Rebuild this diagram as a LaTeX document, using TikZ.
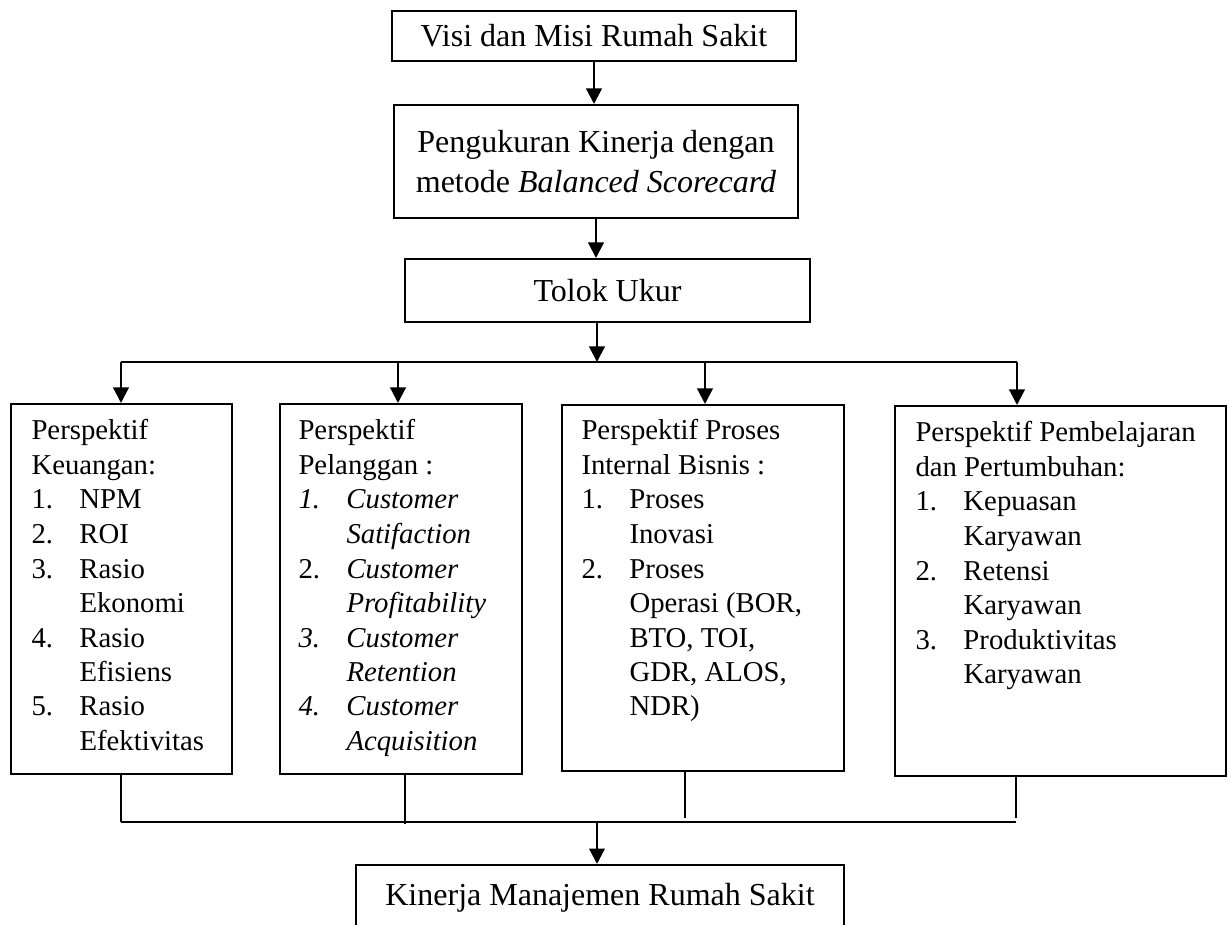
\documentclass[tikz,border=0pt]{standalone}
\usepackage{fontspec}
\setmainfont{Liberation Serif}
\usetikzlibrary{arrows.meta}
\begin{document}
\begin{tikzpicture}[x=0.4pt,y=-0.4pt,
  box/.style={draw, line width=0.8pt, inner sep=0pt, anchor=north west},
  big/.style={font=\fontsize{12.8}{16}\selectfont},
  txt/.style={font=\fontsize{11.5}{13.8}\selectfont, inner sep=0pt, anchor=base west},
  arr/.style={line width=0.9pt, -{Triangle[length=6.2pt,width=6.2pt]}},
  ln/.style={line width=0.8pt},
  thinln/.style={line width=0.45pt},
  busln/.style={line width=0.8pt}]
\clip (0,0) rectangle (1228,925);
\newcommand{\itm}[1]{\makebox[19.2pt][l]{#1}}
\newcommand{\cnt}{\hspace*{19.2pt}}
% top chain
\node[box, big, minimum width=161.6pt, minimum height=20pt] (visi) at (391,10) {Visi dan Misi Rumah Sakit};
\node[box, big, align=center, minimum width=161.6pt, minimum height=45.2pt] (pk) at (393,104) {Pengukuran Kinerja dengan\\metode \textit{Balanced Scorecard}};
\node[box, big, minimum width=162pt, minimum height=25.2pt] (tolok) at (404,258) {Tolok Ukur};
% perspective boxes
\node[box, minimum width=88.4pt, minimum height=148pt] (k1) at (10,403) {};
\node[box, minimum width=96.8pt, minimum height=148pt] (k2) at (279,403) {};
\node[box, minimum width=112.8pt, minimum height=146.4pt] (k3) at (561,404) {};
\node[box, minimum width=132.4pt, minimum height=148pt] (k4) at (894,405) {};
\node[box, big, minimum width=195.2pt, minimum height=26.4pt] (kin) at (355,864) {Kinerja Manajemen Rumah Sakit};
% texts
\node[txt] (t1) at (31,440) {\begin{tabular}[t]{@{}l@{}}
Perspektif\\
Keuangan:\\
\itm{1.}NPM\\
\itm{2.}ROI\\
\itm{3.}Rasio\\
\cnt Ekonomi\\
\itm{4.}Rasio\\
\cnt Efisiens\\
\itm{5.}Rasio\\
\cnt Efektivitas
\end{tabular}};
\node[txt] (t2) at (298,440) {\begin{tabular}[t]{@{}l@{}}
Perspektif\\
Pelanggan :\\
\itm{\textit{1.}}\textit{Customer}\\
\cnt\textit{Satifaction}\\
\itm{2.}\textit{Customer}\\
\cnt\textit{Profitability}\\
\itm{\textit{3.}}\textit{Customer}\\
\cnt\textit{Retention}\\
\itm{\textit{4.}}\textit{Customer}\\
\cnt\textit{Acquisition}
\end{tabular}};
\node[txt] (t3) at (581,440) {\begin{tabular}[t]{@{}l@{}}
Perspektif Proses\\
Internal Bisnis :\\
\itm{1.}Proses\\
\cnt Inovasi\\
\itm{2.}Proses\\
\cnt Operasi (BOR,\\
\cnt BTO, TOI,\\
\cnt GDR, ALOS,\\
\cnt NDR)
\end{tabular}};
\node[txt] (t4) at (915,442) {\begin{tabular}[t]{@{}l@{}}
Perspektif Pembelajaran\\
dan Pertumbuhan:\\
\itm{1.}Kepuasan\\
\cnt Karyawan\\
\itm{2.}Retensi\\
\cnt Karyawan\\
\itm{3.}Produktivitas\\
\cnt Karyawan
\end{tabular}};
% connectors top
\draw[arr] (visi.south) -- (visi.south |- pk.north);
\draw[arr] (pk.south) -- (pk.south |- tolok.north);
\coordinate (busmid) at (597,362);
\coordinate (busL) at (121,362);
\coordinate (bus2) at (398,362);
\coordinate (bus3) at (705,362);
\coordinate (busR) at (1017,362);
\draw[arr] (tolok.south -| busmid) -- (busmid);
\draw[ln] (busL) -- (busR);
\draw[arr] (busL) -- (k1.north -| busL);
\draw[arr] (bus2) -- (k2.north -| bus2);
\draw[arr] (bus3) -- (k3.north -| bus3);
\draw[arr] (busR) -- (k4.north -| busR);
% connectors bottom
\coordinate (c1) at (121,822);
\coordinate (c2) at (405,824);
\coordinate (c3) at (685,818);
\coordinate (c4) at (1016,818);
\coordinate (cL) at (121,822);
\coordinate (cR) at (1016,822);
\coordinate (cmid) at (597,822);
\draw[thinln] (k1.south -| c1) -- (c1);
\draw[thinln] (k2.south -| c2) -- (c2);
\draw[thinln] (k3.south -| c3) -- (c3);
\draw[thinln] (k4.south -| c4) -- (c4);
\draw[busln] (cL) -- (cR);
\draw[arr] (cmid) -- (kin.north -| cmid);
\end{tikzpicture}
\end{document}
